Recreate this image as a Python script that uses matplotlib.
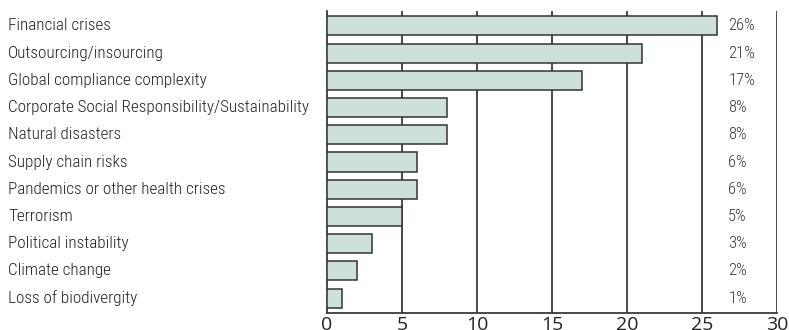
import matplotlib.pyplot as plt
from matplotlib import transforms

# categories and values (percent of respondents)
categories = ["Financial crises", "Outsourcing/insourcing", "Global compliance complexity",
              "Corporate Social Responsibility/Sustainability", "Natural disasters",
              "Supply chain risks", "Pandemics or other health crises", "Terrorism",
              "Political instability", "Climate change", "Loss of biodivergity"]
values = [26, 21, 17, 8, 8, 6, 6, 5, 3, 2, 1]
x_ticks = [0, 5, 10, 15, 20, 25, 30]

plt.rcParams["font.family"] = ["Roboto Condensed", "Archivo Narrow", "DejaVu Sans"]

fig = plt.figure(figsize=(7.89, 3.3), dpi=100)
ax = fig.add_axes([327 / 789, 1 - 313 / 330, 450 / 789, 302 / 330])

pos = list(range(len(categories)))
ax.barh(pos, values, height=0.7, color="#cde0d9", edgecolor="#333333", linewidth=1.1, zorder=3)

# vertical grid lines
for t in x_ticks[1:]:
    ax.axvline(t, color="#3a3a3a", linewidth=1.3, zorder=1)

# percent labels on the right
for p, v in zip(pos, values):
    ax.text(26.75, p, "{}%".format(v), va="center", ha="left", fontsize=12,
            fontweight="light", color="#3a3a3a")

# category labels at the far left of the figure
trans = transforms.blended_transform_factory(fig.transFigure, ax.transData)
for p, c in zip(pos, categories):
    ax.text(8 / 789, p, c, transform=trans, va="center", ha="left", fontsize=12.3,
            fontweight="light", color="#222222", clip_on=False)

ax.set_xlim(0, 30)
ax.set_ylim(10.55, -0.55)
ax.set_xticks(x_ticks)
ax.set_xticklabels([str(t) for t in x_ticks], fontsize=14, color="#222222",
                   family=["Open Sans", "DejaVu Sans"])
ax.set_yticks([])
ax.tick_params(axis="x", length=0, pad=2.5)
for s in ["top", "right"]:
    ax.spines[s].set_visible(False)
ax.spines["left"].set_color("#3a3a3a")
ax.spines["left"].set_linewidth(1.3)
ax.spines["bottom"].set_color("#3a3a3a")
ax.spines["bottom"].set_linewidth(1.3)

fig.savefig("out.png", dpi=100)
